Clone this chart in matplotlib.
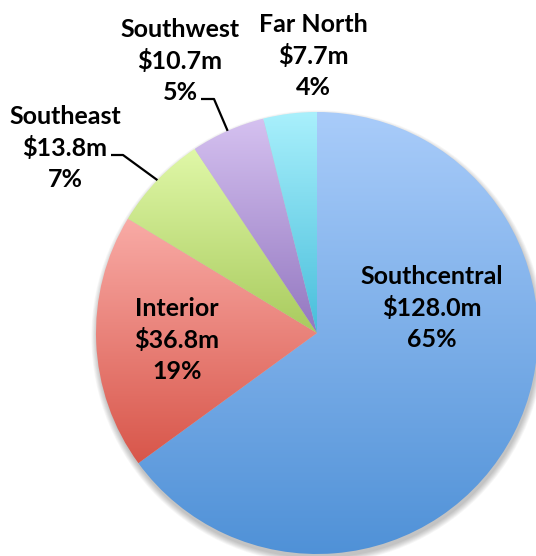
import numpy as np
import matplotlib
matplotlib.use('Agg')
import matplotlib.pyplot as plt
from matplotlib.colors import LinearSegmentedColormap
from matplotlib.patches import Circle

# Data
regions = ['Southcentral', 'Interior', 'Southeast', 'Southwest', 'Far North']
amounts = [128.0, 36.8, 13.8, 10.7, 7.7]
top_colors = ['#A9CCFA', '#F9ABA6', '#E0F8A8', '#D5C1F0', '#A9F0FC']
bottom_colors = ['#4F91D7', '#D8564A', '#A9CB5E', '#9377C0', '#48BEDB']

W, H = 536, 556
fig = plt.figure(figsize=(W / 100, H / 100), dpi=100)
ax = fig.add_axes([0, 0, 1, 1])

cx, cy, r = 317, H - 333, 221

# soft shadow, mostly below the pie
for i in range(8):
    ax.add_patch(Circle((cx + 1, cy - 4), r + i * 0.8, color='black',
                        alpha=0.03, lw=0, zorder=0))

wedges, _ = ax.pie(amounts, startangle=90, counterclock=False,
                   center=(cx, cy), radius=r, frame=True,
                   wedgeprops=dict(linewidth=0))
ax.set_xlim(0, W)
ax.set_ylim(0, H)
ax.set_aspect('auto')
ax.axis('off')

# vertical gradient fill per slice
for w, c1, c2 in zip(wedges, top_colors, bottom_colors):
    path = w.get_path().transformed(w.get_patch_transform())
    x0, y0 = path.vertices.min(axis=0)
    x1, y1 = path.vertices.max(axis=0)
    cmap = LinearSegmentedColormap.from_list('g', [c2, c1])
    grad = np.linspace(0, 1, 256).reshape(-1, 1)
    im = ax.imshow(grad, cmap=cmap, extent=(x0, x1, y0, y1), origin='lower',
                   aspect='auto', zorder=2, interpolation='bicubic')
    im.set_clip_path(w)
    w.set_facecolor('none')

total = sum(amounts)
labels = [f'{n}\n${v:.1f}m\n{round(v / total * 100):.0f}%' for n, v in zip(regions, amounts)]

# label centres (pixel coords, y from top)
label_pos = [(432, 308), (177, 340), (65, 148), (180, 61), (313, 56)]
font = dict(family='Lato', fontweight='bold', fontsize=18, linespacing=1.42)
for lab, (x, y) in zip(labels, label_pos):
    ax.text(x, H - y, lab, ha='center', va='center', zorder=5, **font)

# leader lines for Southeast and Southwest
leaders = {2: (111, 123, 155), 3: (201, 214, 99)}
for idx, (xa, xb, yl) in leaders.items():
    w = wedges[idx]
    ang = np.deg2rad((w.theta1 + w.theta2) / 2)
    ex, ey = cx + r * np.cos(ang), cy + r * np.sin(ang)
    ax.plot([xa, xb, ex], [H - yl, H - yl, ey], color='black', lw=1.6,
            zorder=4, solid_capstyle='butt')

fig.savefig('out.png', dpi=100)
